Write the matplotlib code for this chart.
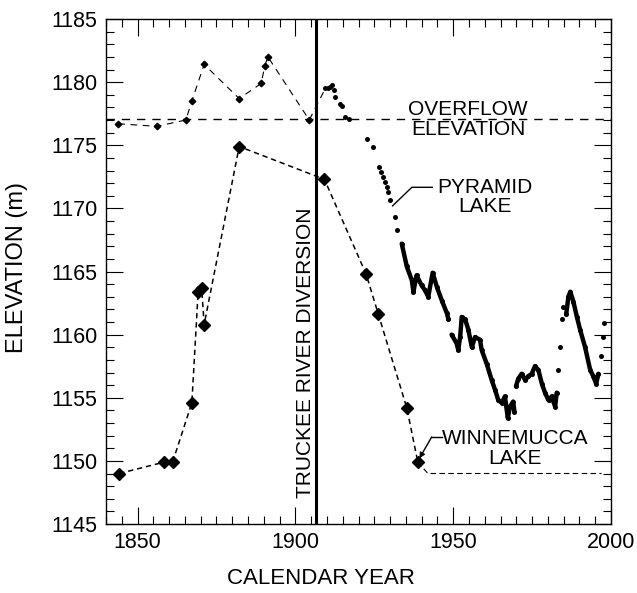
import numpy as np
import matplotlib
matplotlib.use("Agg")
import matplotlib.pyplot as plt
from matplotlib.ticker import MultipleLocator

plt.rcParams['font.family'] = ['Liberation Sans', 'DejaVu Sans']

# Pyramid Lake, historical estimates before the diversion
pyr_hist_year = [1843.9, 1856.1, 1865.3, 1867.2, 1871.1, 1882.2, 1889.2, 1890.3, 1891.3, 1904.4]
pyr_hist_elev = [1176.7, 1176.5, 1177.0, 1178.5, 1181.4, 1178.7, 1179.9, 1181.3, 1182.0, 1177.0]

# Pyramid Lake, measured levels
pyr_year = [1909.5, 1910.4, 1911.0, 1911.7, 1912.1, 1912.6, 1914.1, 1914.7, 1915.6, 1917.0,
            1922.8, 1924.5, 1926.6, 1927.2, 1927.7, 1928.3, 1928.9, 1929.5, 1930.0, 1931.6,
            1932.3, 1933.7, 1935.3, 1936.9, 1937.4, 1938.4, 1940.0, 1941.1, 1942.1, 1943.5,
            1944.8, 1946.4, 1948.0, 1948.5, 1949.5, 1951.1, 1951.6, 1952.2, 1952.7, 1953.8,
            1954.8, 1955.9, 1956.9, 1958.5, 1959.0, 1960.6, 1962.2, 1963.3, 1964.3, 1965.4,
            1966.4, 1967.3, 1968.0, 1969.0, 1969.4, 1969.9, 1970.6, 1971.7, 1972.8, 1973.8,
            1974.9, 1975.9, 1977.0, 1978.1, 1979.1, 1980.2, 1981.2, 1982.3, 1982.8, 1983.3,
            1983.9, 1984.4, 1984.9, 1985.8, 1986.5, 1987.1, 1988.1, 1989.2, 1990.2, 1991.8,
            1993.4, 1994.4, 1995.3, 1996.0, 1996.7, 1997.4, 1997.8]
pyr_elev = [1179.5, 1179.5, 1179.6, 1179.8, 1179.4, 1178.8, 1178.3, 1178.1, 1177.2, 1177.1,
            1175.5, 1174.9, 1173.3, 1172.9, 1172.5, 1172.1, 1171.7, 1171.3, 1170.7, 1169.3,
            1168.3, 1167.2, 1165.4, 1164.3, 1163.4, 1164.7, 1163.9, 1163.5, 1163.0, 1164.9,
            1163.8, 1162.7, 1161.7, 1161.2, 1160.0, 1159.3, 1158.8, 1159.8, 1161.4, 1161.2,
            1160.4, 1159.0, 1159.8, 1159.6, 1158.8, 1157.7, 1156.4, 1155.6, 1154.8, 1154.6,
            1155.1, 1153.4, 1154.3, 1154.7, 1153.9, 1155.9, 1156.5, 1156.9, 1156.4, 1156.7,
            1156.9, 1157.5, 1157.2, 1156.1, 1155.4, 1154.8, 1155.1, 1154.3, 1155.4, 1157.2,
            1159.0, 1161.2, 1162.2, 1161.6, 1163.0, 1163.4, 1162.6, 1161.4, 1160.4, 1159.0,
            1157.2, 1156.7, 1156.1, 1156.9, 1158.3, 1159.8, 1160.9]
# periods with a continuous record
pyr_spans = [(1933.5, 1948.6), (1949.4, 1969.5), (1969.8, 1982.9), (1985.7, 1996.1)]

# Winnemucca Lake
win_year = [1844.2, 1858.4, 1861.1, 1867.2, 1869.2, 1870.3, 1871.1, 1882.2, 1909.2, 1922.4,
            1926.3, 1935.3, 1938.8]
win_elev = [1149.0, 1149.9, 1149.9, 1154.6, 1163.4, 1163.7, 1160.8, 1174.9, 1172.3, 1164.8,
            1161.6, 1154.2, 1149.9]
win_dry_year = [1942.0, 1997.0]
win_dry_elev = [1149.0, 1149.0]

overflow = 1177.05
diversion_year = 1906.5

fig = plt.figure(figsize=(6.37, 5.93), dpi=100)
ax = fig.add_axes([106/637, 1 - 524/593, 505/637, 505/593])

ax.axhline(overflow, color='k', lw=1.0, ls=(0, (6, 5)))
ax.axvline(diversion_year, color='k', lw=2.2)

# historical Pyramid estimates joined to first measured level
ax.plot(pyr_hist_year + pyr_year[:1], pyr_hist_elev + pyr_elev[:1], color='k', lw=0.8,
        ls=(0, (6, 5)))
ax.plot(pyr_hist_year, pyr_hist_elev, 'D', color='k', ms=3.3)

yr = np.array(pyr_year)
el = np.array(pyr_elev)
ax.plot(yr, el, 'o', color='k', ms=3.6, mec='none')
for a, b in pyr_spans:
    m = (yr >= a) & (yr <= b)
    ax.plot(yr[m], el[m], '-', color='k', lw=3.2, solid_joinstyle='round',
            solid_capstyle='round')

ax.plot(win_year, win_elev, color='k', lw=1.1, ls=(0, (3.5, 2.5)), marker='D', ms=6.2)
ax.plot(win_year[-1:] + win_dry_year, win_elev[-1:] + win_dry_elev, color='k', lw=0.8,
        ls=(0, (5, 3)))

ax.text(1954.7, overflow, 'OVERFLOW\nELEVATION', ha='center', va='center', fontsize=15,
        linespacing=1.05)
ax.text(1960.1, 1170.9, 'PYRAMID\nLAKE', ha='center', va='center', fontsize=15,
        linespacing=1.05)
ax.plot([1943.4, 1936.9, 1930.8], [1171.67, 1171.67, 1170.2], color='k', lw=1)
ax.text(1969.5, 1151.0, 'WINNEMUCCA\nLAKE', ha='center', va='center', fontsize=15,
        linespacing=1.05)
ax.annotate('', xy=(1939.3, 1150.2), xytext=(1943.2, 1151.9),
            arrowprops=dict(arrowstyle='-|>', color='k', lw=1, mutation_scale=8,
                            shrinkA=0, shrinkB=0))
ax.plot([1946.4, 1943.2], [1151.9, 1151.9], color='k', lw=1)
ax.text(1903.2, 1158.6, 'TRUCKEE RIVER DIVERSION', rotation=90, ha='center', va='center',
        fontsize=15)

ax.set_xlim(1840, 2000)
ax.set_ylim(1145, 1185)
ax.xaxis.set_major_locator(MultipleLocator(50))
ax.xaxis.set_minor_locator(MultipleLocator(5))
ax.yaxis.set_major_locator(MultipleLocator(5))
ax.yaxis.set_minor_locator(MultipleLocator(1))
ax.tick_params(which='both', direction='in', top=True, right=True, width=0.8, labelsize=15.5)
ax.tick_params(which='major', length=12, pad=6)
ax.tick_params(which='minor', length=6)
for s in ax.spines.values():
    s.set_linewidth(1.0)

ax.set_xlabel('CALENDAR YEAR', fontsize=16)
ax.set_ylabel('ELEVATION (m)', fontsize=17)
ax.xaxis.set_label_coords(0.426, -0.088)
ax.yaxis.set_label_coords(-0.155, 0.507)

fig.savefig('out.png', dpi=100)
